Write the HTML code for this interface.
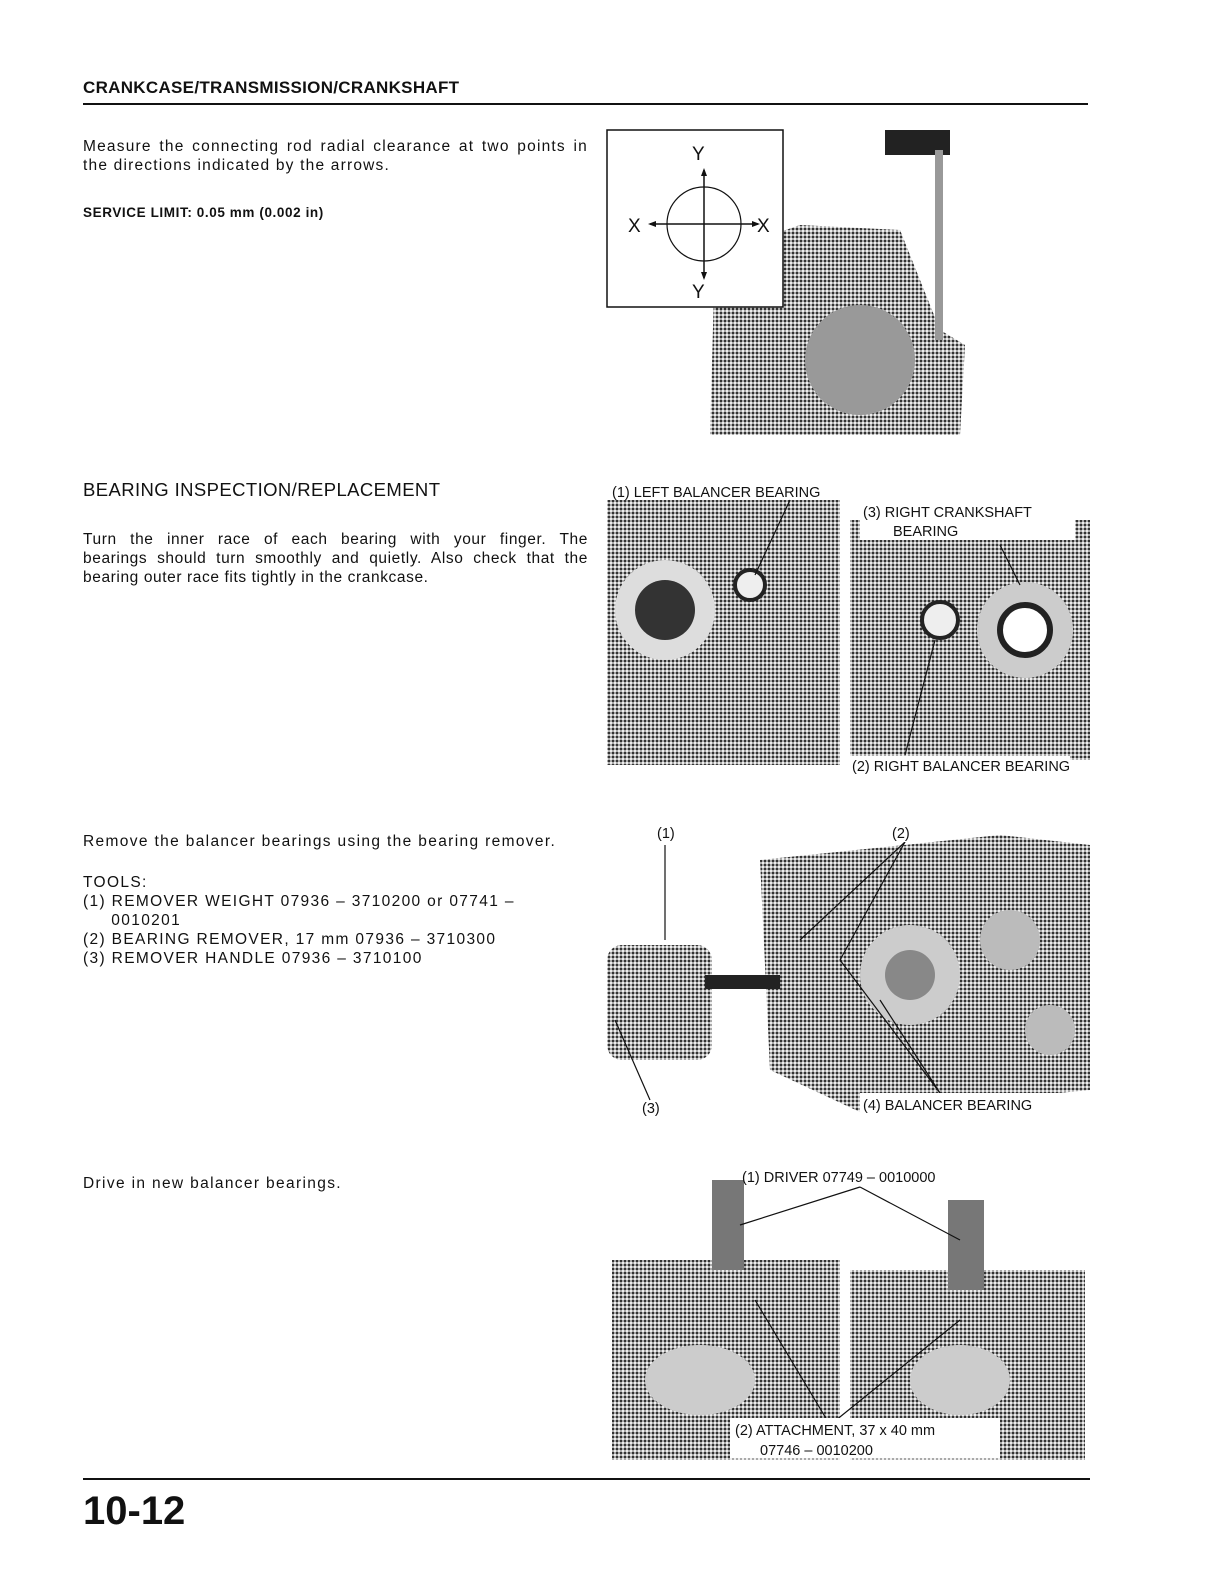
<!DOCTYPE html>
<html><head><meta charset="utf-8"><style>
body{margin:0;background:#fff;}
.pg{position:relative;width:1224px;height:1584px;background:#fff;font-family:"Liberation Sans",sans-serif;color:#111;}
.t{position:absolute;font-size:15.5px;line-height:19px;letter-spacing:1.35px;white-space:nowrap;}
.j{position:absolute;font-size:15.5px;line-height:19px;width:505px;letter-spacing:1.2px;}
.j div{text-align:justify;text-align-last:justify;white-space:nowrap;}
.j div.l{text-align-last:left;}
svg{position:absolute;left:0;top:0;}
</style></head><body><div class="pg">
<div class="t" style="left:83px;top:78px;font-size:17px;font-weight:bold;letter-spacing:0.3px">CRANKCASE/TRANSMISSION/CRANKSHAFT</div>
<div style="position:absolute;left:83px;top:103px;width:1005px;height:2px;background:#111"></div>
<div class="j" style="left:83px;top:137px;"><div style="white-space:normal">Measure the connecting rod radial clearance at two points in</div><div class="l">the directions indicated by the arrows.</div></div>
<div class="t" style="left:83px;top:203px;font-weight:bold;font-size:13.5px;letter-spacing:0.6px">SERVICE LIMIT: 0.05 mm (0.002 in)</div>
<div class="t" style="left:83px;top:480px;font-size:18.5px;letter-spacing:0.4px">BEARING INSPECTION/REPLACEMENT</div>
<div class="j" style="left:83px;top:530px;letter-spacing:0.6px"><div style="white-space:normal">Turn the inner race of each bearing with your finger. The</div><div style="white-space:normal">bearings should turn smoothly and quietly. Also check that the</div><div class="l">bearing outer race fits tightly in the crankcase.</div></div>
<div class="t" style="left:83px;top:832px">Remove the balancer bearings using the bearing remover.</div>
<div class="t" style="left:83px;top:873px">TOOLS:<br>(1) REMOVER WEIGHT 07936 – 3710200 or 07741 –<br>&nbsp;&nbsp;&nbsp;&nbsp;&nbsp;0010201<br>(2) BEARING REMOVER, 17 mm 07936 – 3710300<br>(3) REMOVER HANDLE 07936 – 3710100</div>
<div class="t" style="left:83px;top:1174px">Drive in new balancer bearings.</div>
<svg width="1224" height="1584">
<defs><pattern id="p" width="4" height="4" patternUnits="userSpaceOnUse"><rect width="4" height="4" fill="#aaa"/><rect width="2" height="2" fill="#333"/><rect x="2" y="2" width="2" height="2" fill="#eee"/></pattern></defs>
<path d="M715 255 L800 225 L900 230 L940 330 L965 345 L960 435 L710 435 Z" fill="url(#p)"/>
<circle cx="860" cy="360" r="55" fill="#999"/>
<rect x="885" y="130" width="65" height="25" fill="#222"/>
<rect x="935" y="150" width="8" height="190" fill="#999"/>
<rect x="607" y="130" width="176" height="177" fill="#fff" stroke="#111" stroke-width="1.5"/>
<circle cx="704" cy="224" r="37" fill="none" stroke="#111" stroke-width="1.2"/>
<line x1="650" y1="224" x2="758" y2="224" stroke="#111" stroke-width="1.5"/>
<line x1="704" y1="170" x2="704" y2="278" stroke="#111" stroke-width="1.5"/>
<path d="M648 224 l8 -3 v6z M760 224 l-8 -3 v6z M704 168 l-3 8 h6z M704 280 l-3 -8 h6z" fill="#111"/>
<g font-family="Liberation Sans" font-size="19" fill="#111"><text x="692" y="160">Y</text><text x="692" y="298">Y</text><text x="628" y="232">X</text><text x="757" y="232">X</text></g>
<rect x="607" y="500" width="233" height="265" fill="url(#p)"/>
<rect x="850" y="520" width="240" height="240" fill="url(#p)"/>
<circle cx="665" cy="610" r="50" fill="#ddd"/><circle cx="665" cy="610" r="30" fill="#333"/>
<circle cx="750" cy="585" r="15" fill="#eee" stroke="#222" stroke-width="4"/>
<circle cx="1025" cy="630" r="48" fill="#ccc"/><circle cx="1025" cy="630" r="25" fill="#fff" stroke="#222" stroke-width="6"/>
<circle cx="940" cy="620" r="18" fill="#eee" stroke="#222" stroke-width="4"/>
<path d="M760 860 L1000 835 L1090 845 L1090 1090 L860 1112 L770 1070 Z" fill="url(#p)"/>
<circle cx="910" cy="975" r="50" fill="#ccc"/><circle cx="910" cy="975" r="25" fill="#888"/>
<circle cx="1010" cy="940" r="30" fill="#bbb"/><circle cx="1050" cy="1030" r="25" fill="#bbb"/>
<rect x="607" y="945" width="105" height="115" rx="15" fill="url(#p)"/>
<rect x="705" y="975" width="75" height="14" fill="#222"/>
<rect x="612" y="1260" width="228" height="200" fill="url(#p)"/>
<rect x="850" y="1270" width="235" height="190" fill="url(#p)"/>
<rect x="712" y="1180" width="32" height="90" fill="#777"/>
<rect x="948" y="1200" width="36" height="90" fill="#777"/>
<ellipse cx="700" cy="1380" rx="55" ry="35" fill="#ccc"/><ellipse cx="960" cy="1380" rx="50" ry="35" fill="#ccc"/>
<g stroke="#111" stroke-width="1.2" fill="none">
<line x1="790" y1="500" x2="755" y2="575"/><line x1="1000" y1="545" x2="1020" y2="585"/><line x1="905" y1="755" x2="935" y2="640"/>
<line x1="665" y1="845" x2="665" y2="940"/><line x1="905" y1="842" x2="800" y2="940"/><line x1="905" y1="842" x2="840" y2="960"/>
<line x1="615" y1="1020" x2="650" y2="1100"/><line x1="940" y1="1093" x2="840" y2="960"/><line x1="940" y1="1093" x2="880" y2="1000"/>
<line x1="860" y1="1187" x2="740" y2="1225"/><line x1="860" y1="1187" x2="960" y2="1240"/>
<line x1="830" y1="1425" x2="755" y2="1300"/><line x1="830" y1="1425" x2="960" y2="1320"/>
</g>
<g font-family="Liberation Sans" font-size="14.5" fill="#111">
<rect x="612" y="480" width="250" height="19" fill="#fff"/>
<text x="612" y="497">(1) LEFT BALANCER BEARING</text>
<rect x="860" y="502" width="215" height="38" fill="#fff"/>
<text x="863" y="517">(3) RIGHT CRANKSHAFT</text><text x="893" y="536">BEARING</text>
<rect x="848" y="756" width="222" height="20" fill="#fff"/>
<text x="852" y="771">(2) RIGHT BALANCER BEARING</text>
<text x="657" y="838">(1)</text>
<rect x="888" y="822" width="28" height="20" fill="#fff"/><text x="892" y="838">(2)</text>
<text x="642" y="1113">(3)</text>
<rect x="860" y="1093" width="210" height="20" fill="#fff"/>
<text x="863" y="1110">(4) BALANCER BEARING</text>
<text x="742" y="1182">(1) DRIVER 07749 – 0010000</text>
<rect x="730" y="1418" width="270" height="40" fill="#fff"/>
<text x="735" y="1435">(2) ATTACHMENT, 37 x 40 mm</text><text x="760" y="1455">07746 – 0010200</text>
</g>
</svg>
<div style="position:absolute;left:83px;top:1478px;width:1007px;height:2px;background:#111"></div>
<div class="t" style="left:83px;top:1488px;font-size:40px;line-height:46px;font-weight:bold;letter-spacing:0">10-12</div>
</div></body></html>
